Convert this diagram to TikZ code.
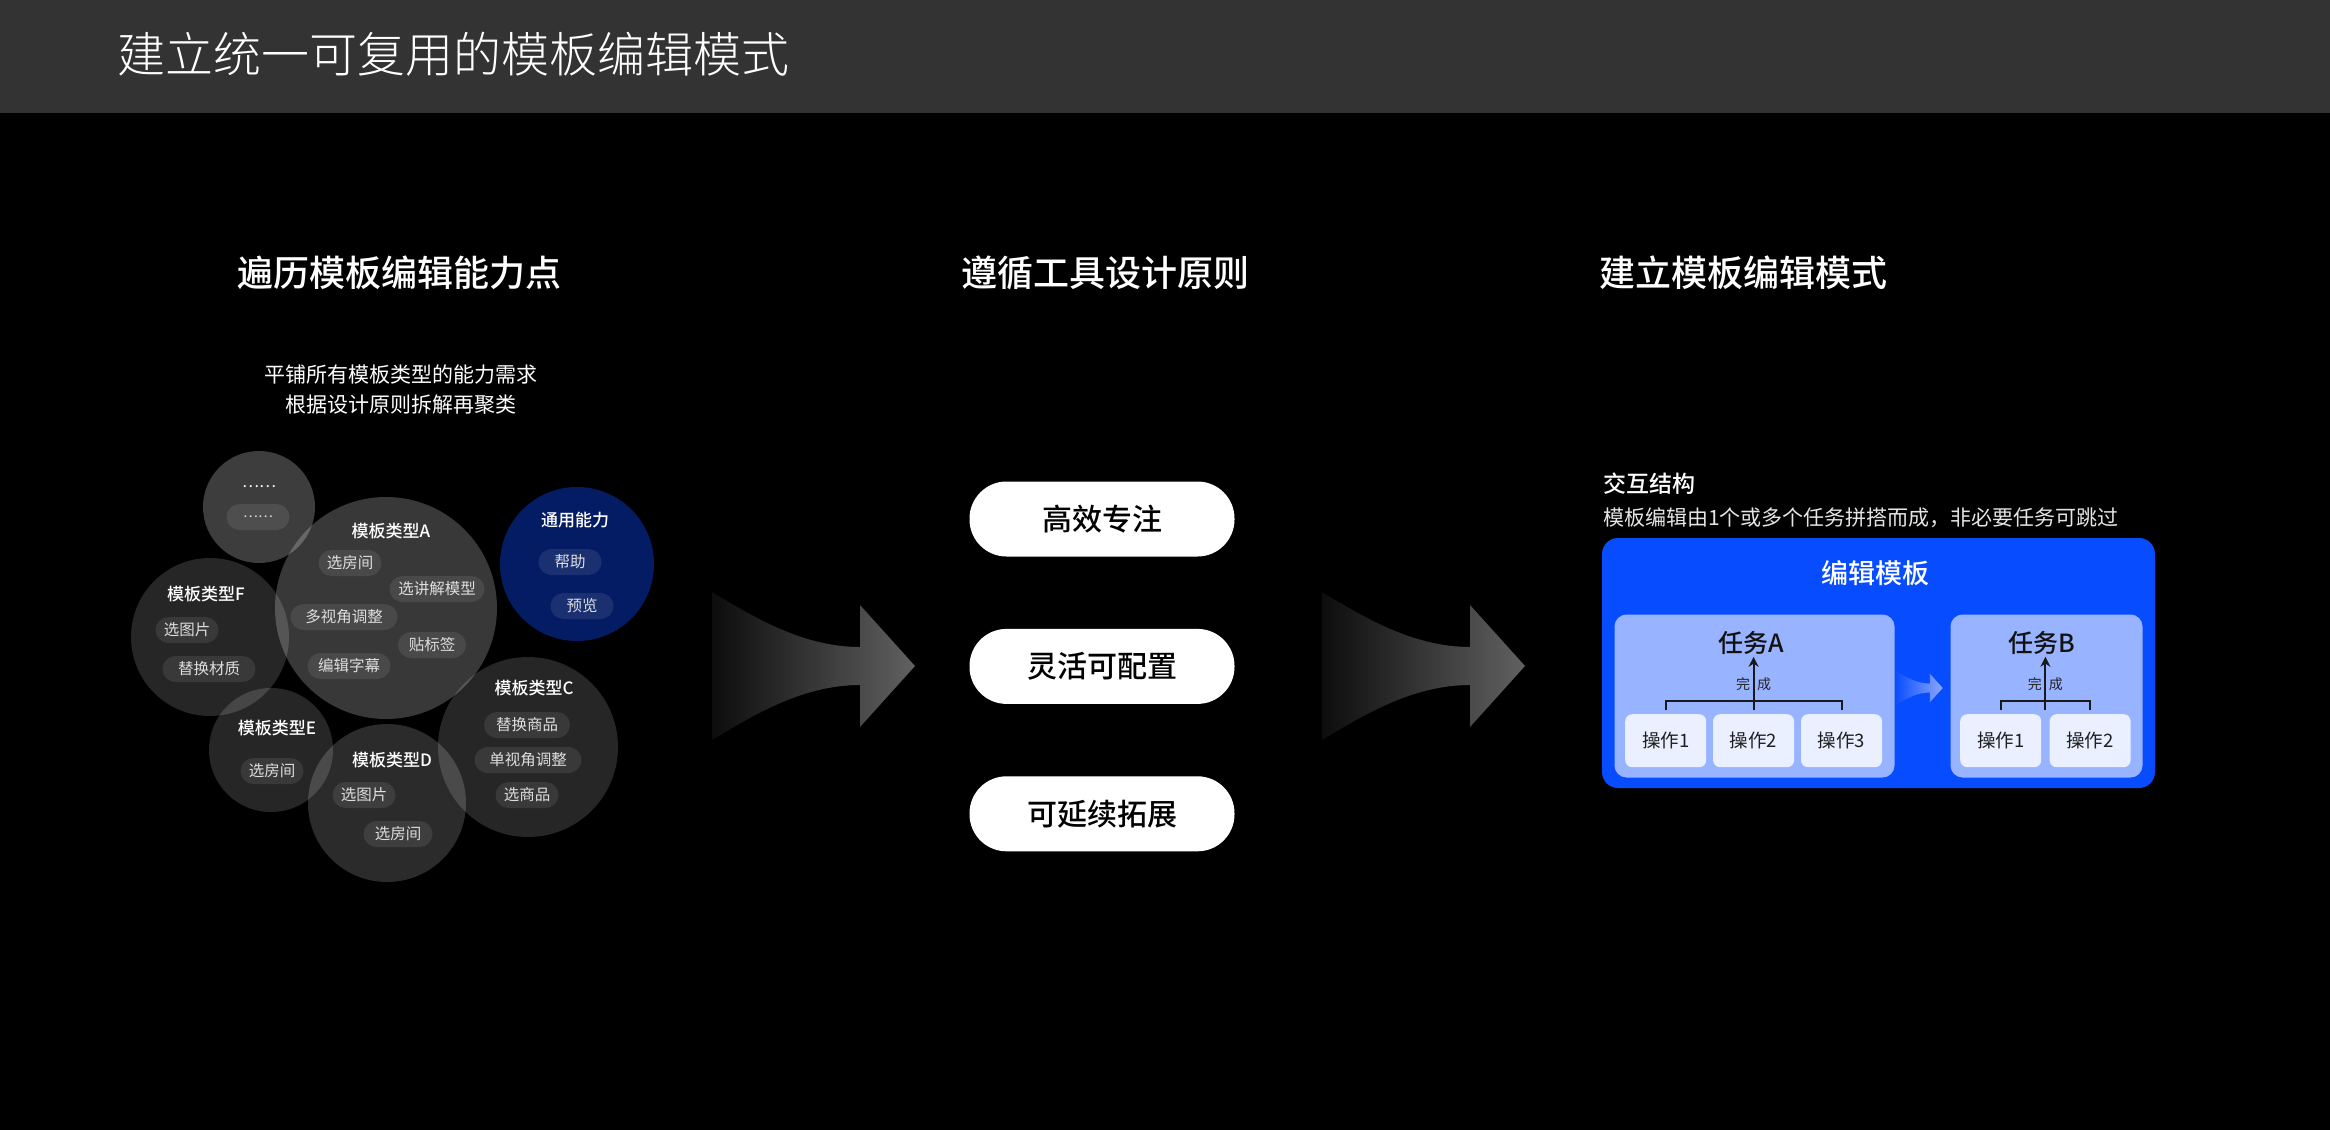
\documentclass[tikz,border=0pt]{standalone}
\usepackage{fontspec}
\setmainfont{Noto Sans CJK SC}[BoldFont={Noto Sans CJK SC Medium}]
\newfontfamily\thinfont{Noto Sans CJK SC Light}
\usetikzlibrary{arrows.meta,positioning,calc}

\definecolor{headgray}{HTML}{333333}
\definecolor{navy}{RGB}{4,28,100}
\definecolor{editblue}{RGB}{8,76,255}
\definecolor{taskblue}{RGB}{152,179,255}
\definecolor{opwhite}{RGB}{234,240,255}
\definecolor{pilltext}{RGB}{222,222,222}

\begin{document}
\begin{tikzpicture}[x=1pt, y=-1pt,
    bubbletitle/.style={text=white, font=\fontsize{17}{20}\selectfont\bfseries},
    abilitytag/.style={rounded corners=13pt, fill=white, fill opacity=0.09, text opacity=1, text=pilltext,
        minimum height=26pt, minimum width=63pt, inner xsep=8pt, inner ysep=0pt, font=\fontsize{15.5}{18}\selectfont},
    sectiontitle/.style={text=white, font=\fontsize{36}{40}\selectfont\bfseries},
    principle/.style={fill=white, rounded corners=37pt, minimum width=265pt, minimum height=75pt,
        font=\fontsize{30}{34}\selectfont\bfseries},
    taskbox/.style={fill=taskblue, rounded corners=12pt, minimum height=163pt},
    tasktitle/.style={inner sep=2pt, text=black!93, font=\fontsize{25}{28}\selectfont\bfseries},
    opbox/.style={fill=opwhite, rounded corners=7pt, minimum width=81pt, minimum height=53pt,
        text=black!88, font=\fontsize{18.5}{20}\selectfont},
    bracket/.style={line width=2pt, black!90}]

    % background and header
    \fill[black] (0,0) rectangle (2330,1130);
    \useasboundingbox (0,0) rectangle (2330,1130);
    \fill[headgray] (0,0) rectangle (2330,113);
    \node[anchor=west, inner xsep=0pt, text=white, font=\fontsize{48}{56}\selectfont\thinfont] (title) at (117,54) {建立统一可复用的模板编辑模式};

    \node[sectiontitle] (traverse) at (399,273) {遍历模板编辑能力点};
    \node[sectiontitle] (follow) at (1105,273) {遵循工具设计原则};
    \node[sectiontitle] (build) at (1743,273) {建立模板编辑模式};

    % left: bubbles
    \node[text=white, align=center, font=\fontsize{21}{30}\selectfont] (intro) at (401,390) {平铺所有模板类型的能力需求\\根据设计原则拆解再聚类};

    \fill[white, fill opacity=0.24] (259,507) circle[radius=56pt];
    \fill[white, fill opacity=0.15] (210,637) circle[radius=79pt];
    \fill[white, fill opacity=0.15] (271,750) circle[radius=62pt];
    \fill[white, fill opacity=0.17] (387,803) circle[radius=79pt];
    \fill[white, fill opacity=0.15] (528,747) circle[radius=90pt];
    \fill[white, fill opacity=0.22] (386,608) circle[radius=111pt];
    \fill[navy] (577,564) circle[radius=77pt];

    \node[text=white, font=\fontsize{16}{18}\selectfont] (dots) at (259,487) {……};
    \node[abilitytag, font=\fontsize{14}{16}\selectfont] (dotstag) at (258,517) {……};

    \node[bubbletitle] (typeA) at (391,531) {模板类型A};
    \node[abilitytag] (roomA) at (350,563) {选房间};
    \node[abilitytag, minimum width=95pt] (modelA) at (437,589) {选讲解模型};
    \node[abilitytag, minimum width=107pt] (viewA) at (344,617) {多视角调整};
    \node[abilitytag, minimum width=68pt] (stickerA) at (432,645) {贴标签};
    \node[abilitytag, minimum width=83pt] (captionA) at (349,666) {编辑字幕};

    \node[bubbletitle] (common) at (575,520) {通用能力};
    \node[abilitytag] (help) at (570,562) {帮助};
    \node[abilitytag] (preview) at (582,606) {预览};

    \node[bubbletitle] (typeF) at (206,594) {模板类型F};
    \node[abilitytag] (picF) at (187,630) {选图片};
    \node[abilitytag, minimum width=93pt] (materialF) at (209,669) {替换材质};

    \node[bubbletitle] (typeE) at (277,728) {模板类型E};
    \node[abilitytag] (roomE) at (272,771) {选房间};

    \node[bubbletitle] (typeD) at (392,760) {模板类型D};
    \node[abilitytag] (picD) at (364,795) {选图片};
    \node[abilitytag, minimum width=69pt] (roomD) at (398,834) {选房间};

    \node[bubbletitle] (typeC) at (534,688) {模板类型C};
    \node[abilitytag, minimum width=86pt] (swapC) at (527,725) {替换商品};
    \node[abilitytag, minimum width=107pt] (viewC) at (528,760) {单视角调整};
    \node[abilitytag] (goodsC) at (527,795) {选商品};

    % big gradient arrows
    \begin{scope}[shift={(712,666)}]
        \shade[left color=black!95, right color=black!62] (0,-74) .. controls (40,-50) and (90,-19) .. (148,-19)
            -- (148,-61) -- (203,0) -- (148,61) -- (148,19) .. controls (90,19) and (40,50) .. (0,74) -- cycle;
    \end{scope}
    \begin{scope}[shift={(1322,666)}]
        \shade[left color=black!95, right color=black!62] (0,-74) .. controls (40,-50) and (90,-19) .. (148,-19)
            -- (148,-61) -- (203,0) -- (148,61) -- (148,19) .. controls (90,19) and (40,50) .. (0,74) -- cycle;
    \end{scope}

    % middle: principles
    \node[principle] (efficient) at (1102,519) {高效专注};
    \node[principle, below=72pt of efficient] (flexible) {灵活可配置};
    \node[principle, below=72pt of flexible] (extend) {可延续拓展};

    % right: interaction structure
    \node[anchor=west, inner xsep=0pt, text=white, font=\fontsize{23}{26}\selectfont\bfseries] (interact) at (1603,484) {交互结构};
    \node[anchor=west, inner xsep=0pt, text=white!90!black, font=\fontsize{21}{24}\selectfont] (interdesc) at (1603,518) {模板编辑由1个或多个任务拼搭而成，非必要任务可跳过};

    \node[fill=editblue, rounded corners=16pt, minimum width=553pt, minimum height=250pt] (editbox) at (1878.5,663) {};
    \node[text=white, font=\fontsize{27}{30}\selectfont\bfseries] (edittitle) at (1875,573) {编辑模板};

    \node[taskbox, minimum width=280pt] (taskA) at (1754.5,696) {};
    \node[taskbox, minimum width=192pt] (taskB) at (2046.5,696) {};
    \begin{scope}[shift={(1895,688)}, scale=0.235]
        \shade[left color=editblue, right color={rgb,255:red,140;green,168;blue,255}] (0,-74) .. controls (40,-50) and (90,-19) .. (148,-19)
            -- (148,-61) -- (203,0) -- (148,61) -- (148,19) .. controls (90,19) and (40,50) .. (0,74) -- cycle;
    \end{scope}

    \node[tasktitle] (titleA) at (1751,643) {任务A};
    \node[tasktitle] (titleB) at (2042,643) {任务B};

    \node[opbox] (a1) at (1665.7,740.7) {操作1};
    \node[opbox, right=6.5pt of a1] (a2) {操作2};
    \node[opbox, right=6.5pt of a2] (a3) {操作3};
    \node[opbox] (b1) at (2000.7,740.7) {操作1};
    \node[opbox, right=8pt of b1] (b2) {操作2};

    \draw[bracket] ([yshift=4pt]a1.north) |- ($(a1.north)!0.5!(a3.north)+(0,-13)$) -| ([yshift=4pt]a3.north);
    \draw[bracket, -{Stealth[length=10pt,width=10pt]}] ([yshift=4pt]a2.north) -- (a2.north |- titleA.south);
    \node[text=black!85, font=\fontsize{14}{16}\selectfont] (doneA) at ($(a2.north)+(0,-30)$) {完\hspace{7pt}成};

    \coordinate (bmid) at ($(b1.north)!0.5!(b2.north)$);
    \draw[bracket] ([yshift=4pt]b1.north) |- ($(bmid)+(0,-13)$) -| ([yshift=4pt]b2.north);
    \draw[bracket, -{Stealth[length=10pt,width=10pt]}] ([yshift=4pt]bmid) -- (bmid |- titleB.south);
    \node[text=black!85, font=\fontsize{14}{16}\selectfont] (doneB) at ($(bmid)+(0,-30)$) {完\hspace{7pt}成};
\end{tikzpicture}
\end{document}
